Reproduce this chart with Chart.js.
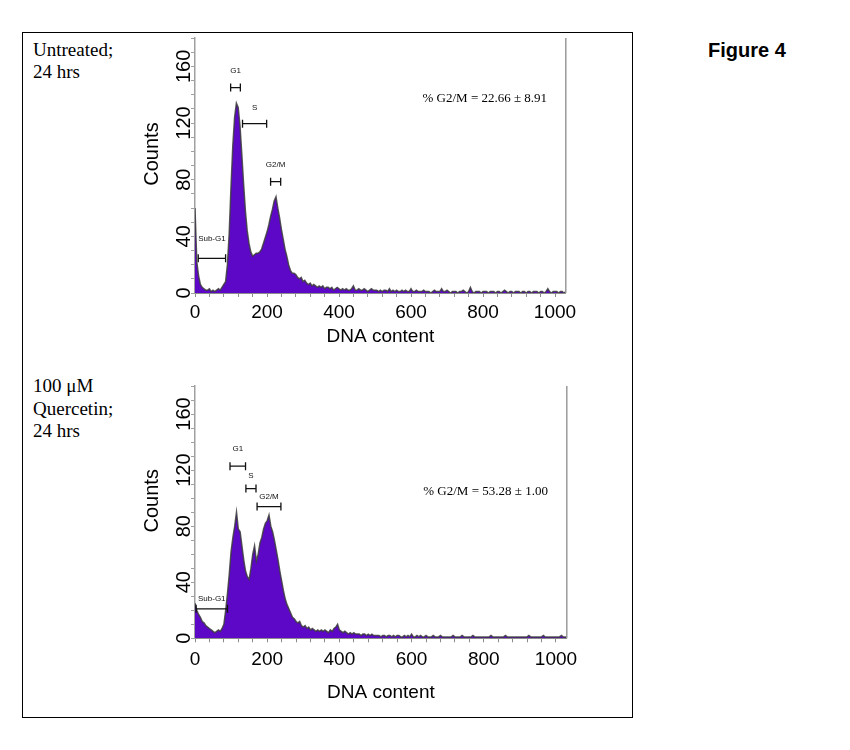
<!DOCTYPE html>
<html>
<head>
<meta charset="utf-8">
<script src="https://cdn.jsdelivr.net/npm/chart.js@4.4.0/dist/chart.umd.min.js"></script>
<style>
  body { margin: 0; background: #fff; width: 850px; height: 750px; position: relative; overflow: hidden; }
  #frame { position: absolute; left: 22px; top: 32px; width: 611px; height: 686px; border: 1.5px solid #000; box-sizing: border-box; }
  .note { position: absolute; left: 33px; font: 19px "Liberation Serif", "Times New Roman", serif; color: #000; }
  #fig { position: absolute; left: 708px; top: 38px; font: bold 20px/24px "Liberation Sans", Arial, sans-serif; color: #000; }
  canvas { position: absolute; left: 110px; }
</style>
</head>
<body>
<div id="frame"></div>
<div class="note" style="top:39px; line-height:22px;">Untreated;<br>24 hrs</div>
<div class="note" style="top:375px; line-height:22.5px;">100 μM<br>Quercetin;<br>24 hrs</div>
<div id="fig">Figure 4</div>
<canvas id="c1" width="490" height="330" style="top:30px"></canvas>
<canvas id="c2" width="490" height="340" style="top:370px"></canvas>
<script>
// channel width of one histogram bin
const BIN = 5;

// counts per 5-channel bin, channel 0 .. 1030
const untreated = [
  60, 22, 12, 6, 4, 3, 2, 2, 3, 1,
  2, 1, 2, 3, 2, 4, 6, 8, 20, 42,
  75, 104, 124, 134, 131, 118, 98, 77, 58, 44,
  35, 29, 26, 27, 28, 28, 29, 31, 35, 39,
  43, 48, 54, 59, 65, 68, 60, 53, 45, 38,
  31, 26, 20, 16, 14, 14, 13, 11, 10, 11,
  8, 9, 7, 6, 7, 5, 6, 5, 4, 5,
  4, 5, 3, 4, 4, 3, 4, 2, 3, 4,
  3, 2, 3, 2, 3, 2, 2, 3, 5, 2,
  2, 3, 2, 2, 3, 2, 1, 2, 3, 2,
  2, 2, 1, 2, 1, 2, 2, 1, 3, 1,
  2, 1, 2, 1, 1, 2, 1, 2, 1, 1,
  3, 1, 1, 2, 1, 1, 1, 2, 1, 1,
  1, 0, 1, 2, 1, 1, 1, 3, 1, 1,
  2, 1, 0, 1, 1, 1, 0, 1, 1, 2,
  1, 0, 1, 4, 1, 0, 1, 1, 1, 0,
  1, 1, 1, 0, 1, 1, 1, 0, 1, 1,
  0, 1, 2, 1, 0, 1, 1, 0, 1, 1,
  1, 0, 1, 1, 0, 1, 1, 0, 1, 1,
  1, 0, 1, 1, 0, 1, 3, 1, 0, 1,
  1, 1, 0, 1, 1, 0, 1
];

const quercetin = [
  25, 20, 17, 15, 12, 11, 9, 8, 7, 6,
  5, 4, 5, 6, 5, 7, 10, 20, 32, 46,
  62, 72, 80, 90, 78, 76, 66, 56, 48, 44,
  42, 50, 60, 66, 55, 60, 68, 72, 78, 82,
  84, 88, 80, 76, 70, 63, 56, 48, 41, 34,
  28, 24, 21, 18, 15, 14, 12, 11, 12, 9,
  8, 9, 7, 8, 6, 7, 6, 5, 6, 5,
  6, 5, 6, 5, 4, 6, 5, 7, 8, 10,
  6, 5, 4, 5, 4, 3, 4, 3, 4, 3,
  3, 3, 2, 3, 3, 2, 3, 2, 3, 2,
  2, 2, 2, 1, 2, 2, 1, 2, 2, 1,
  2, 1, 2, 2, 1, 1, 2, 1, 2, 1,
  3, 1, 1, 2, 1, 2, 1, 1, 2, 1,
  1, 1, 2, 1, 1, 1, 2, 1, 1, 1,
  1, 1, 1, 2, 1, 1, 1, 1, 2, 1,
  1, 1, 1, 1, 2, 1, 1, 1, 1, 1,
  1, 1, 1, 1, 2, 1, 1, 1, 1, 1,
  1, 1, 2, 1, 1, 1, 1, 1, 1, 1,
  1, 1, 1, 1, 1, 2, 1, 1, 1, 1,
  1, 1, 1, 2, 1, 1, 1, 1, 1, 1,
  1, 1, 1, 2, 1, 1, 1
];

const xTickLabels = [0, 200, 400, 600, 800, 1000];
const yTickLabels = [0, 40, 80, 120, 160];

// gates: [from channel, to channel, bar level, label level]
const gateNames = ['Sub-G1', 'G1', 'S', 'G2/M'];
const gatesUntreated = [[9, 85, 24.5, 38], [99, 126, 145, 156.5], [132, 199, 119.5, 130.6], [210, 238, 78.6, 90.6]];
const gatesQuercetin = [[3, 90, 21, 28], [97, 140, 122.8, 135], [141, 169, 106.8, 115.8], [172, 238, 94, 101]];

const statUntreated = '% G2/M = 22.66 ± 8.91';
const statQuercetin = '% G2/M = 53.28 ± 1.00';

const SANS = '"Liberation Sans", Arial, sans-serif';

// gates, stats text, y title and right frame
const gatePlugin = {
  id: 'gates',
  afterDatasetsDraw(chart, args, opts) {
    const { ctx, chartArea: a, scales: { x, y } } = chart;
    ctx.save();
    ctx.strokeStyle = '#9a9a9a';
    ctx.lineWidth = 1.5;
    ctx.beginPath();
    ctx.moveTo(a.right, a.top);
    ctx.lineTo(a.right, a.bottom);
    ctx.stroke();

    ctx.strokeStyle = '#111';
    ctx.fillStyle = '#111';
    ctx.lineWidth = 1.3;
    ctx.textAlign = 'center';
    ctx.textBaseline = 'middle';
    ctx.font = '8px ' + SANS;
    opts.gates.forEach((g, i) => {
      const x0 = x.getPixelForValue(g[0]);
      const x1 = x.getPixelForValue(g[1]);
      const yy = y.getPixelForValue(g[2]);
      ctx.beginPath();
      ctx.moveTo(x0, yy); ctx.lineTo(x1, yy);
      ctx.moveTo(x0, yy - 4); ctx.lineTo(x0, yy + 4);
      ctx.moveTo(x1, yy - 4); ctx.lineTo(x1, yy + 4);
      ctx.stroke();
      ctx.fillText(gateNames[i], (x0 + x1) / 2, y.getPixelForValue(g[3]));
    });

    ctx.fillStyle = '#000';
    ctx.font = '13px "Liberation Serif", "Times New Roman", serif';
    ctx.fillText(opts.stat, x.getPixelForValue(opts.statAt[0]), y.getPixelForValue(opts.statAt[1]));

    ctx.font = '20px ' + SANS;
    ctx.translate(a.left - 43, a.top + (a.bottom - a.top) * 0.455);
    ctx.rotate(-Math.PI / 2);
    ctx.fillText('Counts', 0, 0);
    ctx.restore();
  }
};

function panel(id, counts, gates, stat, statAt, geo) {
  const pts = counts.map((v, i) => ({ x: i * BIN, y: v }));
  return new Chart(document.getElementById(id), {
    type: 'line',
    data: {
      datasets: [{
        data: pts,
        fill: 'origin',
        backgroundColor: '#5c08c6',
        borderColor: 'rgba(60,60,60,0.85)',
        borderWidth: 1.5,
        pointRadius: 0,
        tension: 0
      }]
    },
    plugins: [gatePlugin],
    options: {
      responsive: false,
      animation: false,
      devicePixelRatio: 1,
      layout: { autoPadding: false, padding: { left: 0, top: geo.top, right: geo.right, bottom: 0 } },
      plugins: {
        legend: { display: false },
        tooltip: { enabled: false },
        gates: { gates: gates, stat: stat, statAt: statAt }
      },
      scales: {
        x: {
          type: 'linear', min: 0, max: 1030,
          afterBuildTicks: s => {
            const t = [];
            for (let v = 0; v <= 1000; v += 40) t.push({ value: v });
            s.ticks = t;
          },
          afterFit: s => { s.height = geo.axisH; s.paddingLeft = 0; s.paddingRight = 0; },
          ticks: {
            autoSkip: false, maxRotation: 0, color: '#000', padding: geo.tickPad,
            font: { family: SANS, size: 19 },
            callback: v => xTickLabels.includes(v) ? String(v) : ''
          },
          grid: { drawOnChartArea: false, tickLength: 4, color: '#8c8c8c' },
          border: { color: '#8c8c8c', width: 1 },
          title: {
            display: true, text: 'DNA content', color: '#000',
            font: { family: SANS, size: 19 },
            padding: { top: 0, bottom: geo.titlePad }
          }
        },
        y: {
          min: 0, max: 180,
          afterBuildTicks: s => {
            const t = [];
            for (let v = 0; v <= 180; v += 10) t.push({ value: v });
            s.ticks = t;
          },
          afterFit: s => { s.width = 85; s.paddingTop = 0; s.paddingBottom = 0; },
          ticks: {
            autoSkip: false, minRotation: 90, maxRotation: 90, crossAlign: 'center',
            padding: -10.5, color: '#000',
            font: { family: SANS, size: 20 },
            callback: v => yTickLabels.includes(v) ? String(v) : ''
          },
          grid: { drawOnChartArea: false, tickLength: 4, color: '#a0a0a0' },
          border: { color: '#a0a0a0', width: 1.5 }
        }
      }
    }
  });
}

panel('c1', untreated, gatesUntreated, statUntreated, [805, 137],
  { top: 8, right: 34.2, axisH: 67, tickPad: 4, titlePad: 12 });
panel('c2', quercetin, gatesQuercetin, statQuercetin, [805, 105],
  { top: 16, right: 33.2, axisH: 71.7, tickPad: 6, titlePad: 6 });
</script>
</body>
</html>
